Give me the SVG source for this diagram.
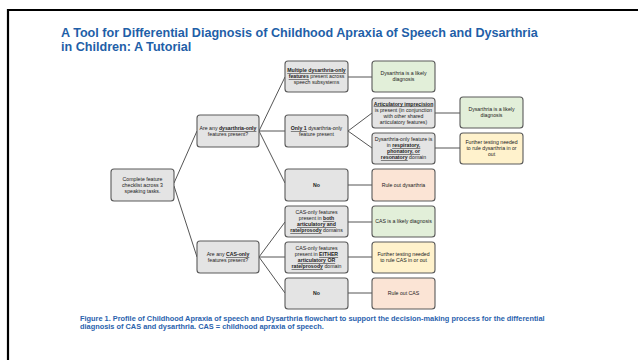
<svg xmlns="http://www.w3.org/2000/svg" width="638" height="360" viewBox="0 0 638 360">
<style>
.bx{stroke:#5a5a5a;stroke-width:1.1}
.g{fill:#e4e4e4}.gr{fill:#e2efd9}.pe{fill:#fbe4d5}.ye{fill:#fff2cc}
.t{font-family:"Liberation Sans",Arial,sans-serif;font-size:5.2px;fill:#222;text-anchor:middle}
.b{font-weight:bold}
.u{font-weight:bold;text-decoration:underline}
.ln{stroke:#555;stroke-width:1;fill:none}
.ti{font-family:"Liberation Sans",Arial,sans-serif;font-size:12.6px;font-weight:bold;fill:#1f5fa8}
.cap{font-family:"Liberation Sans",Arial,sans-serif;font-size:6.6px;font-weight:bold;fill:#2a62ad}
</style>
<rect width="638" height="360" fill="#fff"/>
<path d="M8 360 V10 H638" fill="none" stroke="#000" stroke-width="2.2"/>
<text class="ti" x="61" y="37">A Tool for Differential Diagnosis of Childhood Apraxia of Speech and Dysarthria</text>
<text class="ti" x="61" y="51">in Children: A Tutorial</text>
<g id="connectors">
<path class="ln" d="M174 183 L197 131"/>
<path class="ln" d="M174 186 L197 257"/>
<path class="ln" d="M259 131 L285 77"/>
<path class="ln" d="M259 131 H285"/>
<path class="ln" d="M259 131 L285 183"/>
<path class="ln" d="M259 257 L285 222"/>
<path class="ln" d="M259 257 H285"/>
<path class="ln" d="M259 257 L285 293"/>
<path class="ln" d="M348 77 H372"/>
<path class="ln" d="M348 131 L372 113"/>
<path class="ln" d="M348 131 L372 148"/>
<path class="ln" d="M348 185 H372"/>
<path class="ln" d="M348 222 H372"/>
<path class="ln" d="M348 257 H372"/>
<path class="ln" d="M348 293 H372"/>
<path class="ln" d="M435 113 H460"/>
<path class="ln" d="M435 148 H460"/>
</g>
<g id="start"><rect class="bx g" x="111" y="169" width="63" height="32" rx="3"/>
<text class="t"><tspan x="142.5" y="181">Complete feature</tspan><tspan x="142.5" y="187">checklist across 3</tspan><tspan x="142.5" y="193">speaking tasks.</tspan></text></g>
<g id="q1"><rect class="bx g" x="197" y="115" width="62" height="32" rx="3"/>
<text class="t"><tspan x="228" y="130">Are any <tspan class="u">dysarthria-only</tspan></tspan><tspan x="228" y="136">features present?</tspan></text></g>
<g id="q2"><rect class="bx g" x="197" y="241" width="62" height="32" rx="3"/>
<text class="t"><tspan x="228" y="256">Are any <tspan class="u">CAS-only</tspan></tspan><tspan x="228" y="262">features present?</tspan></text></g>
<g id="a1"><rect class="bx g" x="285" y="61" width="63" height="31" rx="3"/>
<text class="t"><tspan x="316.5" y="72"><tspan class="u">Multiple dysarthria-only</tspan></tspan><tspan x="316.5" y="78"><tspan class="u">features</tspan> present across</tspan><tspan x="316.5" y="84">speech subsystems</tspan></text></g>
<g id="a2"><rect class="bx g" x="285" y="115" width="63" height="32" rx="3"/>
<text class="t"><tspan x="316.5" y="130"><tspan class="u">Only 1</tspan> dysarthria-only</tspan><tspan x="316.5" y="136">feature present</tspan></text></g>
<g id="a3"><rect class="bx g" x="285" y="169" width="63" height="32" rx="3"/>
<text class="t b" x="316.5" y="186.8">No</text></g>
<g id="b1"><rect class="bx g" x="285" y="206" width="63" height="31" rx="3"/>
<text class="t"><tspan x="316.5" y="214">CAS-only features</tspan><tspan x="316.5" y="220">present in <tspan class="u">both</tspan></tspan><tspan x="316.5" y="226"><tspan class="u">articulatory and</tspan></tspan><tspan x="316.5" y="232"><tspan class="u">rate/prosody</tspan> domains</tspan></text></g>
<g id="b2"><rect class="bx g" x="285" y="242" width="63" height="31" rx="3"/>
<text class="t"><tspan x="316.5" y="250">CAS-only features</tspan><tspan x="316.5" y="256">present in <tspan class="u">EITHER</tspan></tspan><tspan x="316.5" y="262"><tspan class="u">articulatory OR</tspan></tspan><tspan x="316.5" y="268"><tspan class="u">rate/prosody</tspan> domain</tspan></text></g>
<g id="b3"><rect class="bx g" x="285" y="278" width="63" height="31" rx="3"/>
<text class="t b" x="316.5" y="295.3">No</text></g>
<g id="c1"><rect class="bx gr" x="372" y="61" width="63" height="31" rx="3"/>
<text class="t"><tspan x="403.5" y="75">Dysarthria is a likely</tspan><tspan x="403.5" y="81">diagnosis</tspan></text></g>
<g id="c2"><rect class="bx g" x="372" y="98" width="63" height="30" rx="3"/>
<text class="t"><tspan x="403.5" y="105.5"><tspan class="u">Articulatory imprecision</tspan></tspan><tspan x="403.5" y="111.5">is present (in conjunction</tspan><tspan x="403.5" y="117.5">with other shared</tspan><tspan x="403.5" y="123.5">articulatory features)</tspan></text></g>
<g id="c3"><rect class="bx g" x="372" y="133" width="63" height="31" rx="3"/>
<text class="t"><tspan x="403.5" y="141">Dysarthria-only feature is</tspan><tspan x="403.5" y="147">in <tspan class="u">respiratory,</tspan></tspan><tspan x="403.5" y="153"><tspan class="u">phonatory, or</tspan></tspan><tspan x="403.5" y="159"><tspan class="u">resonatory</tspan> domain</tspan></text></g>
<g id="c4"><rect class="bx pe" x="372" y="169" width="63" height="32" rx="3"/>
<text class="t" x="403.5" y="186.8">Rule out dysarthria</text></g>
<g id="c5"><rect class="bx gr" x="372" y="206" width="63" height="31" rx="3"/>
<text class="t" x="403.5" y="223.3">CAS is a likely diagnosis</text></g>
<g id="c6"><rect class="bx ye" x="372" y="242" width="63" height="31" rx="3"/>
<text class="t"><tspan x="403.5" y="256">Further testing needed</tspan><tspan x="403.5" y="262">to rule CAS in or out</tspan></text></g>
<g id="c7"><rect class="bx pe" x="372" y="278" width="63" height="31" rx="3"/>
<text class="t" x="403.5" y="295.3">Rule out CAS</text></g>
<g id="d1"><rect class="bx gr" x="460" y="97" width="63" height="31" rx="3"/>
<text class="t"><tspan x="491.5" y="111">Dysarthria is a likely</tspan><tspan x="491.5" y="117">diagnosis</tspan></text></g>
<g id="d2"><rect class="bx ye" x="460" y="133" width="63" height="31" rx="3"/>
<text class="t"><tspan x="491.5" y="144">Further testing needed</tspan><tspan x="491.5" y="150">to rule dysarthria in or</tspan><tspan x="491.5" y="156">out</tspan></text></g>
<text class="cap" transform="scale(1.12,1)"><tspan x="71.4" y="321.5">Figure 1. Profile of Childhood Apraxia of speech and Dysarthria flowchart to support the decision-making process for the differential</tspan><tspan x="71.4" y="329.2">diagnosis of CAS and dysarthria. CAS = childhood apraxia of speech.</tspan></text>
</svg>
